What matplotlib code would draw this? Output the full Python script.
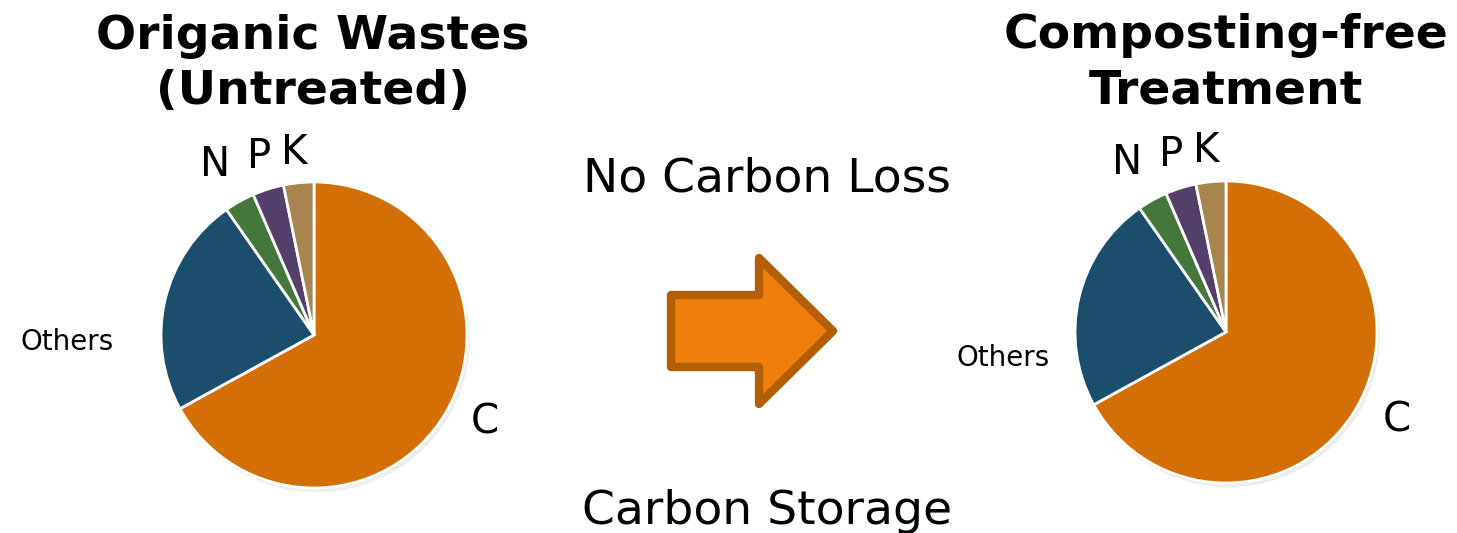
import matplotlib.pyplot as plt
from matplotlib.patches import FancyArrow

# shares of each nutrient, same in both pies
PARTS = ["C", "Others", "N", "P", "K"]
UNTREATED = [67.0, 23.3, 3.2, 3.3, 3.2]
TREATED = [67.0, 23.3, 3.2, 3.3, 3.2]
COLORS = ["#D46F07", "#1A4E6C", "#44783A", "#533F6A", "#A8844E"]

TITLE_LEFT = "Origanic Wastes\n(Untreated)"
TITLE_RIGHT = "Composting-free\nTreatment"
TOP_NOTE = "No Carbon Loss"
BOTTOM_NOTE = "Carbon Storage"

W, H = 1457, 533
fig = plt.figure(figsize=(W / 100, H / 100), dpi=100)
ax = fig.add_axes([0, 0, 1, 1])
ax.set_xlim(0, W)
ax.set_ylim(0, H)
ax.set_aspect("equal")
ax.axis("off")


def py(y):
    # pixel row (from top) to data y
    return H - y


def draw_pie(values, cx, cy, r):
    ax.pie(values, colors=COLORS, startangle=90, counterclock=False,
           center=(cx, py(cy)), radius=r,
           shadow=dict(ox=2, oy=-3, facecolor="#888888", edgecolor="none", alpha=0.15),
           wedgeprops=dict(edgecolor="white", linewidth=2))


draw_pie(UNTREATED, 314, 335, 153)
draw_pie(TREATED, 1226, 332, 151)
ax.set_xlim(0, W)
ax.set_ylim(0, H)

lab = dict(fontsize=29, color="black", ha="center", va="center")
for (x0, y0) in [(0, 0), (912, -2)]:
    ax.text(215 + x0, py(165 + y0), "N", **lab)
    ax.text(259 + x0, py(157 + y0), "P", **lab)
    ax.text(294 + x0, py(153 + y0), "K", **lab)
    ax.text(485 + x0, py(422 + y0), "C", **lab)
ax.text(67, py(342), "Others", fontsize=20, ha="center", va="center")
ax.text(1003, py(358), "Others", fontsize=20, ha="center", va="center")

ttl = dict(fontsize=34, fontweight="bold", ha="center", va="center", linespacing=1.3)
ax.text(313, py(64), TITLE_LEFT, **ttl)
ax.text(1226, py(63), TITLE_RIGHT, **ttl)

ax.text(767, py(179), TOP_NOTE, fontsize=34, ha="center", va="center")
ax.text(767, py(511), BOTTOM_NOTE, fontsize=34, ha="center", va="center")

ax.add_patch(FancyArrow(671, py(331), 162, 0, width=72, head_width=146,
                        head_length=74, length_includes_head=True,
                        facecolor="#EE7F0B", edgecolor="#B35D05",
                        linewidth=6, joinstyle="round"))

fig.savefig("out.png", dpi=100)
